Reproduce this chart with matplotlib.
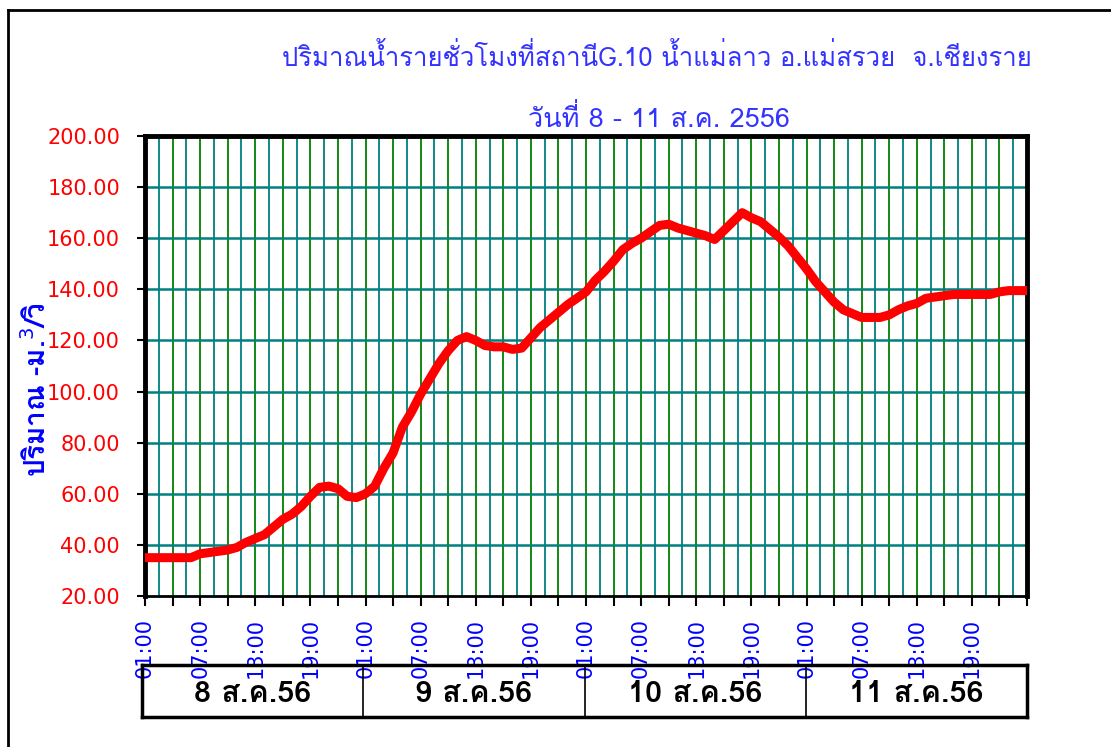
import matplotlib
matplotlib.use("Agg")
import matplotlib.pyplot as plt
from matplotlib import font_manager
from matplotlib.ft2font import FT2Font

# hourly discharge, station G.10 (m3/s), 01:00 8 Aug -> 01:00 12 Aug
flow = [35, 35, 35, 35, 35, 35, 36.5, 37, 37.5, 38,
        39, 41, 42.5, 44, 47, 50, 52, 55, 59, 62.5,
        63, 62, 59, 58.5, 60, 63, 70, 76, 86, 92,
        99, 105, 111, 116, 120, 121.5, 120, 118, 117.5, 117.5,
        116.5, 117, 121, 125, 128, 131, 134, 136.5, 139, 143.5,
        147, 151, 155.5, 158, 160, 162.5, 165, 165.5, 164, 163,
        162, 161, 159.5, 163, 166.5, 170, 168, 166.5, 163.5, 160.5,
        157, 152.5, 148, 143, 139, 135, 132, 130.5, 129, 129,
        129, 130, 132, 133.5, 134.5, 136.5, 137, 137.5, 138, 138,
        138, 138, 138, 139, 139.5, 139.5, 139.5]
hours = list(range(len(flow)))

time_labels = ["01:00", "07:00", "13:00", "19:00"]
day_labels = ["8 ส.ค.56", "9 ส.ค.56", "10 ส.ค.56", "11 ส.ค.56"]
title1 = "ปริมาณน้ำรายชั่วโมงที่สถานีG.10 น้ำแม่ลาว อ.แม่สรวย  จ.เชียงราย"
title2 = "วันที่ 8 - 11 ส.ค. 2556"
ylabel = "ปริมาณ -ม.$^{3}$/วิ"


def find_thai():
    names = []
    for f in font_manager.fontManager.ttflist:
        try:
            if 0x0E1B in FT2Font(f.fname).get_charmap():
                names.append(f.name)
        except Exception:
            pass
    return names[0] if names else "DejaVu Sans"


thai = find_thai()
fam = [thai, "DejaVu Sans"]

fig = plt.figure(figsize=(11.11, 7.47), dpi=100)
ax = fig.add_axes([145 / 1111, 1 - 596 / 747, 882 / 1111, 460 / 747])

# grid: green on ticks, teal half way between
for h in range(0, 97, 3):
    ax.axvline(h, color="#008000", lw=1.3, zorder=1)
for h in range(0, 96, 3):
    ax.axvline(h + 1.5, color="#008080", lw=1.3, zorder=1)
for v in range(40, 200, 20):
    ax.axhline(v, color="#008080", lw=1.8, zorder=1)

ax.plot(hours, flow, color="#ff0000", lw=6.5, solid_capstyle="round", zorder=3)

ax.set_xlim(0, 96)
ax.set_ylim(20, 200)
ax.set_yticks(range(20, 201, 20))
ax.set_yticklabels(["%.2f" % v for v in range(20, 201, 20)], color="#ff0000",
                   fontsize=15, family="DejaVu Sans")
xt = list(range(0, 97, 3))
xl = [time_labels[(h // 6) % 4] if h % 6 == 0 and h < 96 else "" for h in xt]
ax.set_xticks(xt)
ax.set_xticklabels(xl, rotation=90, color="#0000ff", fontsize=15,
                   family="DejaVu Sans", va="top")
ax.tick_params(axis="x", length=7, width=1.5, pad=9)
ax.tick_params(axis="y", length=6, width=1.5, pad=12)

for s in ["left", "top", "right"]:
    ax.spines[s].set_linewidth(3.5)
ax.spines["bottom"].set_linewidth(2)

fig.text(657 / 1111, 1 - 57 / 747, title1, color="#3333ff", fontsize=18.5,
         family=fam, ha="center", va="center")
fig.text(659 / 1111, 1 - 118 / 747, title2, color="#3333ff", fontsize=19.5,
         family=fam, ha="center", va="center")
fig.text(36 / 1111, 1 - 390 / 747, ylabel, color="#0000ff", fontsize=20,
         family=fam, rotation=90, ha="center", va="center", fontweight="bold")

# date table under the axis
tab = fig.add_axes([142 / 1111, 1 - 717 / 747, 885 / 1111, 52 / 747])
tab.patch.set_alpha(0)
tab.set_xlim(0, 4)
tab.set_ylim(0, 1)
tab.set_xticks([])
tab.set_yticks([])
for s in tab.spines.values():
    s.set_linewidth(2.5)
for i, lab in enumerate(day_labels):
    if i > 0:
        tab.axvline(i, color="black", lw=1.2)
    tab.text(i + 0.5, 0.45, lab, fontsize=22, fontweight="bold", family=fam,
             ha="center", va="center")

# outer frame lines
fig.add_artist(plt.Line2D([8 / 1111, 8 / 1111], [0, 1 - 10 / 747], color="black", lw=2))
fig.add_artist(plt.Line2D([8 / 1111, 1], [1 - 10 / 747, 1 - 10 / 747], color="black", lw=2))

fig.savefig("out.png", dpi=100)
